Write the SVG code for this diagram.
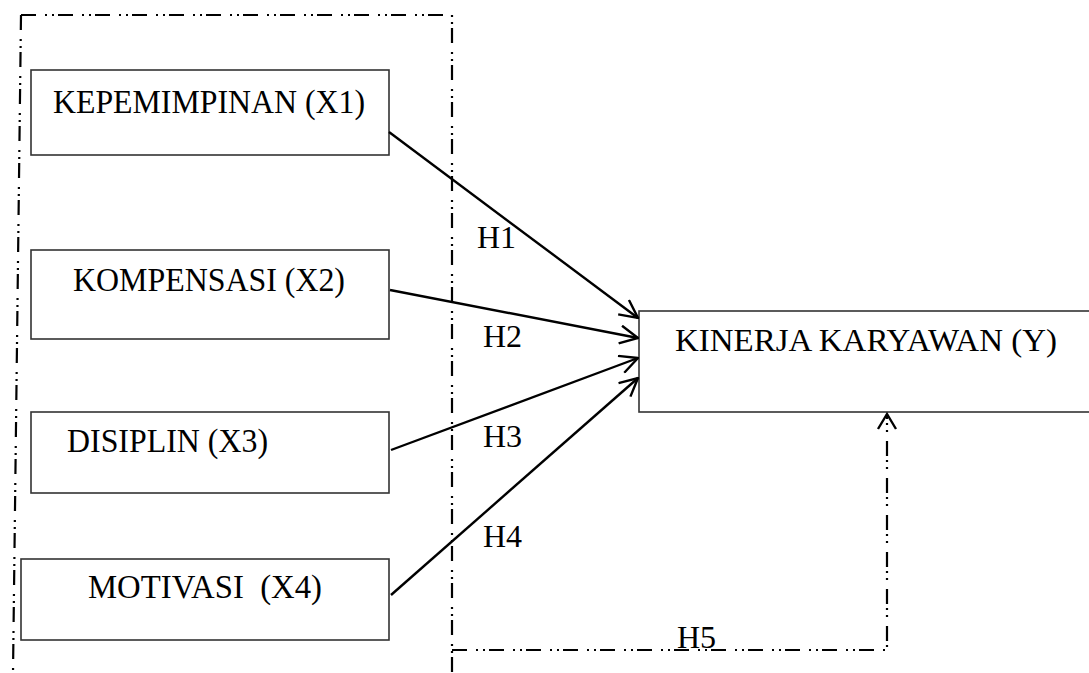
<svg xmlns="http://www.w3.org/2000/svg" width="1089" height="673" viewBox="0 0 1089 673">
  <style>
    .box { fill: #ffffff; stroke: #333333; stroke-width: 1.6; }
    .lbl { font-family: "Liberation Serif", "Times New Roman", serif; font-size: 32px; fill: #000000; }
    .big { font-size: 34px; }
    .edge { stroke: #000000; stroke-width: 2.4; fill: none; }
    .dashdot { stroke: #000000; stroke-width: 2.2; fill: none; stroke-dasharray: 15 9 2 5 2 4; }
  </style>
  <defs>
    <marker id="openArrow" viewBox="0 0 20 20" refX="19" refY="10" markerWidth="20" markerHeight="20" markerUnits="userSpaceOnUse" orient="auto">
      <path d="M1,1 L19,10 L1,19" fill="none" stroke="#000000" stroke-width="2.4"/>
    </marker>
  </defs>

  <rect width="1089" height="673" fill="#ffffff"/>

  <!-- grouping frame around the independent variables -->
  <g id="frame">
    <path class="dashdot" d="M21,15 L452,15 L452,673"/>
    <path class="dashdot" d="M21,15 L13,673"/>
  </g>

  <g id="node-x1">
    <rect class="box" x="31" y="70" width="358" height="85"/>
    <text class="lbl big" x="53" y="113" textLength="312" lengthAdjust="spacingAndGlyphs">KEPEMIMPINAN (X1)</text>
  </g>
  <g id="node-x2">
    <rect class="box" x="31" y="250" width="358" height="89"/>
    <text class="lbl big" x="73" y="291" textLength="272" lengthAdjust="spacingAndGlyphs">KOMPENSASI (X2)</text>
  </g>
  <g id="node-x3">
    <rect class="box" x="31" y="412" width="358" height="81"/>
    <text class="lbl big" x="67" y="452" textLength="201" lengthAdjust="spacingAndGlyphs">DISIPLIN (X3)</text>
  </g>
  <g id="node-x4">
    <rect class="box" x="21" y="559" width="368" height="81"/>
    <text class="lbl big" x="88" y="598" textLength="234" lengthAdjust="spacingAndGlyphs" xml:space="preserve">MOTIVASI  (X4)</text>
  </g>
  <g id="node-y">
    <rect class="box" x="639" y="311" width="460" height="101"/>
    <text class="lbl" x="675" y="351" textLength="382" lengthAdjust="spacingAndGlyphs">KINERJA KARYAWAN (Y)</text>
  </g>

  <g id="connectors">
    <line class="edge" x1="389" y1="132" x2="638" y2="318" marker-end="url(#openArrow)"/>
    <line class="edge" x1="390" y1="290" x2="638" y2="338" marker-end="url(#openArrow)"/>
    <line class="edge" x1="391" y1="450" x2="638" y2="358" marker-end="url(#openArrow)"/>
    <line class="edge" x1="391" y1="595" x2="638" y2="378" marker-end="url(#openArrow)"/>
    <path class="dashdot" d="M452,650 L887,650 L887,414"/>
    <path d="M878,429 L887,414 L896,429" fill="none" stroke="#000000" stroke-width="2.4"/>
  </g>

  <g id="edge-labels">
    <text class="lbl" x="477" y="248">H1</text>
    <text class="lbl" x="483" y="347">H2</text>
    <text class="lbl" x="483" y="447">H3</text>
    <text class="lbl" x="483" y="547">H4</text>
    <text class="lbl" x="677" y="648">H5</text>
  </g>
</svg>
